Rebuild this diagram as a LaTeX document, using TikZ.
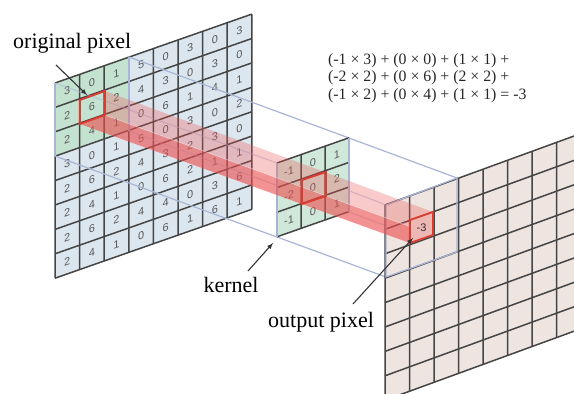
\documentclass[tikz,border=0pt]{standalone}
\usepackage{fontspec}
\setmainfont{Liberation Serif}
\newfontfamily\digitfont{Liberation Sans}
\definecolor{cellblue}{HTML}{DCE6EE}
\definecolor{cellgreen}{HTML}{C4E2D0}
\definecolor{cellpink}{HTML}{EEE4E0}
\definecolor{framecol}{HTML}{A8B5D6}
\definecolor{gridcol}{HTML}{454545}
\definecolor{beamcol}{HTML}{EC4F4F}
\definecolor{pixelcol}{HTML}{DE3B30}
\begin{document}
\begin{tikzpicture}[x=1pt, y=-1pt,
    gridline/.style={draw=gridcol, line width=1.5pt},
    frameline/.style={draw=framecol, line width=1.2pt},
    pixelbox/.style={draw=pixelcol, line width=1.8pt, line join=miter},
    digit/.style={font=\digitfont\fontsize{11}{11}\selectfont, text=black!65, inner sep=0pt, transform shape},
    callout/.style={font=\fontsize{22}{22}\selectfont, inner sep=0pt},
    pointer/.style={-latex, line width=1.1pt, draw=black!80}]
  \path[use as bounding box, clip] (0,0) rectangle (574,394);

  % frame corners on the input, kernel and output planes
  \coordinate (ITL) at (55,83);
  \coordinate (ITR) at (129,57);
  \coordinate (IBL) at (55,156);
  \coordinate (IBR) at (129,131);
  \coordinate (KTL) at (277,163);
  \coordinate (KTR) at (349,138);
  \coordinate (KBL) at (277,237);
  \coordinate (KBR) at (349,212);
  \coordinate (OTL) at (386,205);
  \coordinate (OTR) at (457,178);
  \coordinate (OBL) at (386,277);
  \coordinate (OBR) at (457,252);

  % beam corners
  \coordinate (A) at (105,91);
  \coordinate (B) at (105,115);
  \coordinate (C) at (80,124);
  \coordinate (D) at (433,212);
  \coordinate (E) at (433,235);
  \coordinate (F) at (410,243);

  % input plane
  \begin{scope}[cm={1,.35,0,1,(55,83)}, x=24.6pt, y=-24.4pt]
    \fill[cellblue] (0,0) rectangle (8,8);
    \fill[cellgreen] (0,0) rectangle (3,3);
    \foreach \i in {0,...,8}
      \draw[gridline] (\i,0)--(\i,8) (0,\i)--(8,\i);
    \foreach \rowvals [count=\r from 0] in {{3,0,1,5,0,3,0,3},{2,6,2,4,3,0,3,0},{2,4,1,0,6,1,4,1},{3,0,1,5,0,3,0,2},{2,6,2,4,3,2,3,0},{2,4,1,0,6,2,1,1},{2,6,2,4,4,0,3,6},{2,4,1,0,6,1,6,1}}
      \foreach \val [count=\c from 0] in \rowvals
        \node[digit] (in\r\c) at (\c+.5,\r+.5) {\val};
  \end{scope}

  % frame lines
  \draw[frameline] (ITR)--(KTR)--(OTR) (IBL)--(KBL)--(OBL);
  \draw[frameline] (IBL)--(ITL) (ITR)--(IBR);
  \draw[frameline, opacity=.5] (ITL)--(KTL)--(OTL) (IBR)--(KBR)--(OBR);

  % output plane
  \begin{scope}[cm={1,.365,0,1,(385,205)}, x=24.5pt, y=-24.4pt]
    \fill[cellpink] (0,0) rectangle (8,8);
    \foreach \i in {0,...,8}
      \draw[gridline] (\i,0)--(\i,8) (0,\i)--(8,\i);
  \end{scope}
  \draw[frameline] (OTL)--(OTR)--(OBR)--(OBL)--cycle;

  % kernel
  \begin{scope}[cm={1,.35,0,1,(277,163)}, x=24pt, y=-24.6pt]
    \fill[cellgreen!80!white] (0,0) rectangle (3,3);
    \foreach \i in {0,...,3}
      \draw[gridline] (\i,0)--(\i,3) (0,\i)--(3,\i);
    \foreach \rowvals [count=\r from 0] in {{-1,0,1},{-2,0,2},{-1,0,1}}
      \foreach \val [count=\c from 0] in \rowvals
        \node[digit] (ker\r\c) at (\c+.5,\r+.5) {\val};
  \end{scope}
  \draw[frameline] (KBL)--(KTL) (KTR)--(KBR);

  % beam
  \fill[beamcol, opacity=.3] (A)--(D)--(E)--(B)--cycle;
  \fill[beamcol, opacity=.62] (B)--(E)--(F)--(C)--cycle;
  \draw[white, opacity=.5, line width=.6pt] (B)--(E);

  % marked pixels
  \draw[pixelbox] (80,100)--(A)--(B)--(C)--cycle;
  \draw[pixelbox] (302,180)--(326,172)--(326,196)--(302,204)--cycle;
  \fill[cellpink] (410,220)--(D)--(E)--(F)--cycle;
  \fill[beamcol, opacity=.3] (410,220)--(D)--(E)--(F)--cycle;
  \draw[pixelbox] (410,220)--(D)--(E)--(F)--cycle;
  \node[digit, text=black!80] (outpixel) at (421.5,228) {-3};

  % labels
  \node[callout, anchor=west] (origlabel) at (13,43) {original pixel};
  \node[callout] (kernellabel) at (231,285) {kernel};
  \node[callout, anchor=west] (outlabel) at (268,322) {output pixel};
  \node[font=\fontsize{15.8}{17.6}\selectfont, align=left, anchor=west, inner sep=0pt, text=black!85] (sumtext) at (328,78)
    {(-1 × 3) + (0 × 0) + (1 × 1) +\\(-2 × 2) + (0 × 6) + (2 × 2) +\\(-1 × 2) + (0 × 4) + (1 × 1) = -3};

  \coordinate (origtail) at (56,65);
  \coordinate (orighead) at (87,95);
  \coordinate (kerneltail) at (248,271);
  \coordinate (kernelhead) at (273,243);
  \coordinate (outtail) at (353,304);
  \coordinate (outhead) at (413,238);
  \draw[pointer] (origtail)--(orighead);
  \draw[pointer] (kerneltail)--(kernelhead);
  \draw[pointer] (outtail)--(outhead);
\end{tikzpicture}
\end{document}
